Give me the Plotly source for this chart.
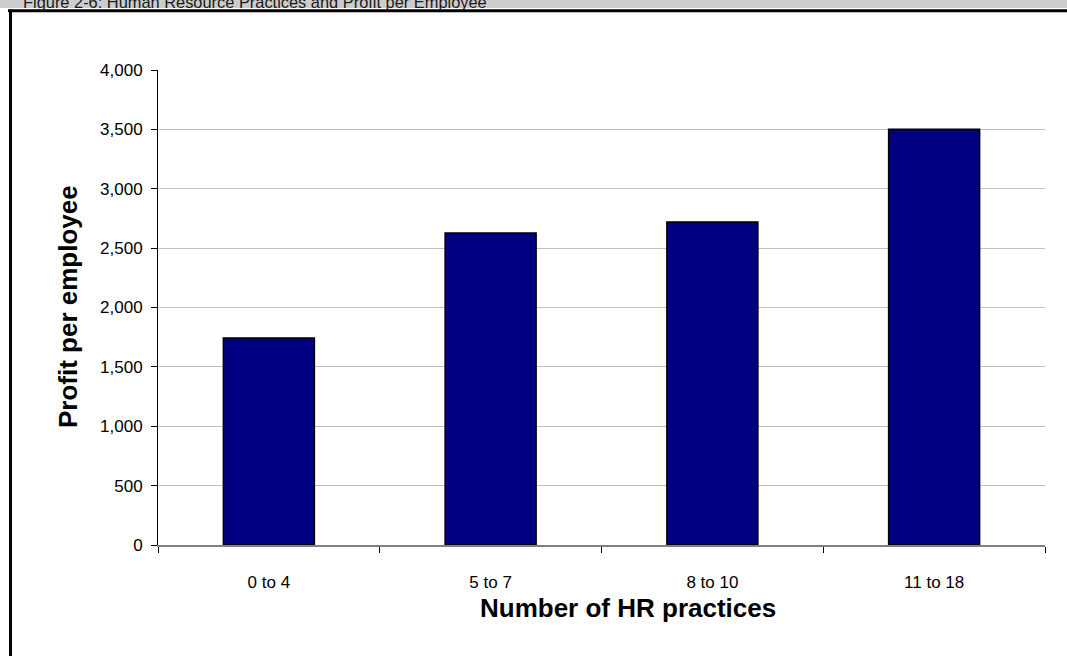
import plotly.graph_objects as go

categories = ["0 to 4", "5 to 7", "8 to 10", "11 to 18"]
profit = [1743, 2627, 2720, 3500]
y_ticks = [0, 500, 1000, 1500, 2000, 2500, 3000, 3500, 4000]
y_tick_text = [f"{v:,}" for v in y_ticks]

W, H = 1067, 656
L, R, T, B = 158, 1045, 70, 545  # plot area in pixels


def px_x(px):
    return (px - L) / (R - L)


def px_y(py):
    return (B - py) / (B - T)


FONT = "Arial, Liberation Sans, sans-serif"

fig = go.Figure(
    go.Bar(
        x=categories,
        y=profit,
        width=0.41,
        marker=dict(color="#000080", line=dict(color="#000000", width=1.6)),
    )
)

fig.update_layout(
    width=W,
    height=H,
    margin=dict(l=L, r=W - R, t=T, b=H - B),
    paper_bgcolor="white",
    plot_bgcolor="white",
    showlegend=False,
    font=dict(family=FONT, size=17, color="#000000"),
    bargap=0.59,
)

fig.update_xaxes(
    showline=True,
    linecolor="#808080",
    linewidth=1.5,
    ticks="outside",
    tickson="boundaries",
    ticklen=6,
    tickcolor="#000000",
    tickfont=dict(size=17, family=FONT),
    ticklabelstandoff=21,
    showgrid=False,
)
fig.update_yaxes(
    range=[0, 4000],
    tickvals=y_ticks,
    ticktext=y_tick_text,
    showline=True,
    linecolor="#000000",
    linewidth=1,
    ticks="outside",
    ticklen=6,
    tickcolor="#000000",
    tickfont=dict(size=17, family=FONT),
    ticklabelstandoff=5,
    showgrid=True,
    gridcolor="#c0c0c0",
    gridwidth=1,
    zeroline=False,
)

shapes = [
    # grey heading strip
    dict(type="rect", xref="paper", yref="paper",
         x0=px_x(0), x1=px_x(W), y0=px_y(8), y1=px_y(-2),
         fillcolor="#cccccc", line=dict(width=0), layer="below"),
    # frame top edge
    dict(type="line", xref="paper", yref="paper",
         x0=px_x(8), x1=px_x(W + 2), y0=px_y(10.8), y1=px_y(10.8),
         line=dict(color="#000000", width=3)),
    # frame left edge
    dict(type="line", xref="paper", yref="paper",
         x0=px_x(10.5), x1=px_x(10.5), y0=px_y(9.5), y1=px_y(H + 2),
         line=dict(color="#000000", width=3)),
]

annotations = [
    dict(text="Figure 2-6: Human Resource Practices and Profit per Employee",
         xref="paper", yref="paper", x=px_x(21), y=px_y(12.5),
         xanchor="left", yanchor="bottom", showarrow=False,
         font=dict(size=16.4, family=FONT, color="#1a1a1a")),
    dict(text="<b>Profit per employee</b>",
         xref="paper", yref="paper", x=px_x(68), y=px_y(307),
         xanchor="center", yanchor="middle", textangle=-90, showarrow=False,
         font=dict(size=26, family=FONT, color="#000000")),
    dict(text="<b>Number of HR practices</b>",
         xref="paper", yref="paper", x=px_x(628), y=px_y(608),
         xanchor="center", yanchor="middle", showarrow=False,
         font=dict(size=26, family=FONT, color="#000000")),
]

fig.update_layout(shapes=shapes, annotations=annotations)

fig.write_html("out.html")
